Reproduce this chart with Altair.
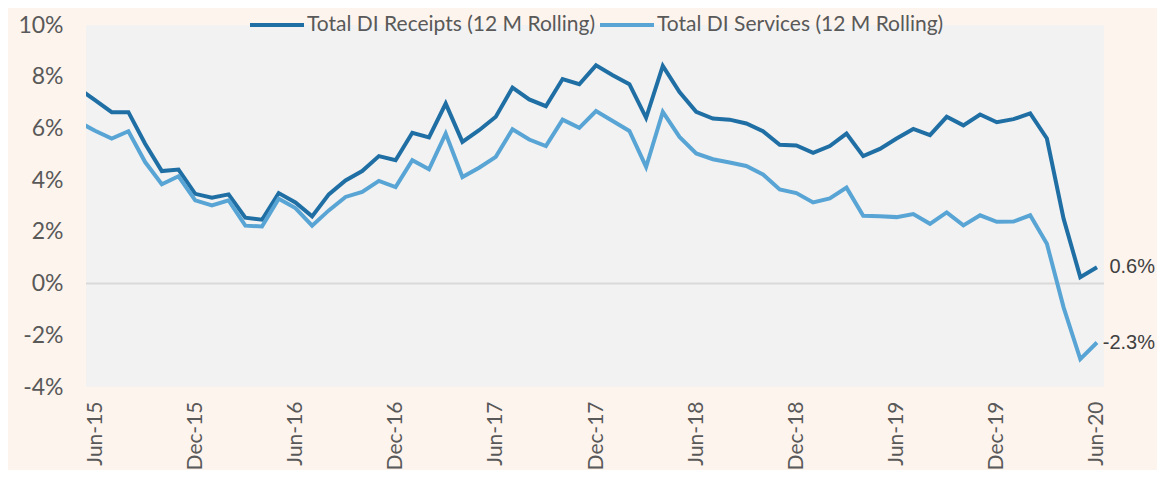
import altair as alt
import pandas as pd

# month index 0 = Jun-15 ... 60 = Jun-20 ; index -1 = May-15 (clipped at the left edge)
start_index = -1
receipts = [7.55, 7.09, 6.63, 6.63, 5.41, 4.35, 4.41, 3.47, 3.32, 3.45, 2.55, 2.47,
            3.50, 3.14, 2.60, 3.45, 3.99, 4.35, 4.93, 4.77, 5.83, 5.65, 6.96, 5.48,
            5.93, 6.45, 7.58, 7.12, 6.86, 7.91, 7.71, 8.44, 8.06, 7.71, 6.41, 8.42,
            7.41, 6.64, 6.38, 6.34, 6.19, 5.89, 5.37, 5.34, 5.06, 5.32, 5.80, 4.93,
            5.21, 5.61, 5.98, 5.74, 6.45, 6.12, 6.54, 6.24, 6.36, 6.58, 5.61, 2.51,
            0.25, 0.63]
services = [6.26, 5.91, 5.61, 5.89, 4.70, 3.84, 4.15, 3.22, 3.02, 3.22, 2.24, 2.21,
            3.28, 2.92, 2.24, 2.83, 3.35, 3.54, 3.97, 3.73, 4.77, 4.42, 5.80, 4.12,
            4.48, 4.90, 5.97, 5.57, 5.32, 6.34, 6.02, 6.67, 6.29, 5.90, 4.51, 6.64,
            5.67, 5.03, 4.81, 4.68, 4.55, 4.22, 3.64, 3.50, 3.14, 3.29, 3.71, 2.62,
            2.60, 2.57, 2.69, 2.31, 2.75, 2.25, 2.64, 2.39, 2.40, 2.64, 1.54, -0.92,
            -2.92, -2.28]
series_names = ["Total DI Receipts (12 M Rolling)", "Total DI Services (12 M Rolling)"]
series_colors = ["#1f6fa5", "#58a5d5"]
tick_positions = [0, 6, 12, 18, 24, 30, 36, 42, 48, 54, 60]
tick_labels = ["Jun-15", "Dec-15", "Jun-16", "Dec-16", "Jun-17", "Dec-17",
               "Jun-18", "Dec-18", "Jun-19", "Dec-19", "Jun-20"]
y_ticks = [-4, -2, 0, 2, 4, 6, 8, 10]

rows = []
for name, vals in zip(series_names, [receipts, services]):
    for i, v in enumerate(vals):
        rows.append({"idx": start_index + i, "value": v, "series": name})
df = pd.DataFrame(rows)

last_idx = start_index + len(receipts) - 1
end_df = df[df["idx"] == last_idx].copy()
end_df["label"] = end_df["value"].map(lambda v: f"{v:.1f}%")

label_map = "{" + ",".join(f"'{p}':'{l}'" for p, l in zip(tick_positions, tick_labels)) + "}"

FONT = "Lato"
GREY = "#595959"

x_enc = alt.X("idx:Q",
              scale=alt.Scale(domain=[-0.54, 60.42], nice=False, zero=False),
              axis=alt.Axis(values=tick_positions, labelExpr=f"{label_map}[datum.value]",
                            labelAngle=-90, labelAlign="right", labelBaseline="middle",
                            labelPadding=14, labelFont=FONT, labelFontSize=21,
                            labelColor=GREY, ticks=False, domain=False, grid=False,
                            title=None, labelOverlap=False))
y_scale = alt.Scale(domain=[-4, 10], nice=False)

lines = alt.Chart(df).mark_line(strokeWidth=4, clip=True, strokeJoin="miter").encode(
    x=x_enc,
    y=alt.Y("value:Q", scale=y_scale,
            axis=alt.Axis(values=y_ticks, labelExpr="datum.value + '%'",
                          labelFont=FONT, labelFontSize=23, labelColor=GREY,
                          labelPadding=23, ticks=False, domain=False, grid=False,
                          title=None)),
    color=alt.Color("series:N",
                    scale=alt.Scale(domain=series_names, range=series_colors),
                    legend=alt.Legend(orient="none", legendX=162, legendY=-29,
                                      direction="horizontal", title=None,
                                      symbolType="stroke", symbolSize=2916,
                                      symbolStrokeWidth=4, labelFont=FONT,
                                      labelFontSize=21, labelColor=GREY,
                                      labelOffset=1, columnPadding=-4,
                                      labelLimit=400)),
)

zero = alt.Chart(pd.DataFrame({"y": [0]})).mark_rule(color="#d9d9d9", strokeWidth=2).encode(
    y=alt.Y("y:Q", scale=y_scale)
)

end_labels = alt.Chart(end_df).mark_text(align="right", baseline="middle", dx=58,
                                         font="Liberation Sans", fontSize=20,
                                         color="#404040").encode(
    x=alt.X("idx:Q"),
    y=alt.Y("value:Q"),
    text="label:N",
)

chart = alt.layer(zero, lines, end_labels).properties(
    width=1018, height=362,
    autosize=alt.AutoSizeParams(type="none"),
    padding={"left": 78, "top": 17, "right": 53, "bottom": 83},
    background="#fdf4ee",
).configure_view(fill="#f2f2f2", stroke=None)

chart.save("out.html", embed_options={"renderer": "svg", "actions": False})
